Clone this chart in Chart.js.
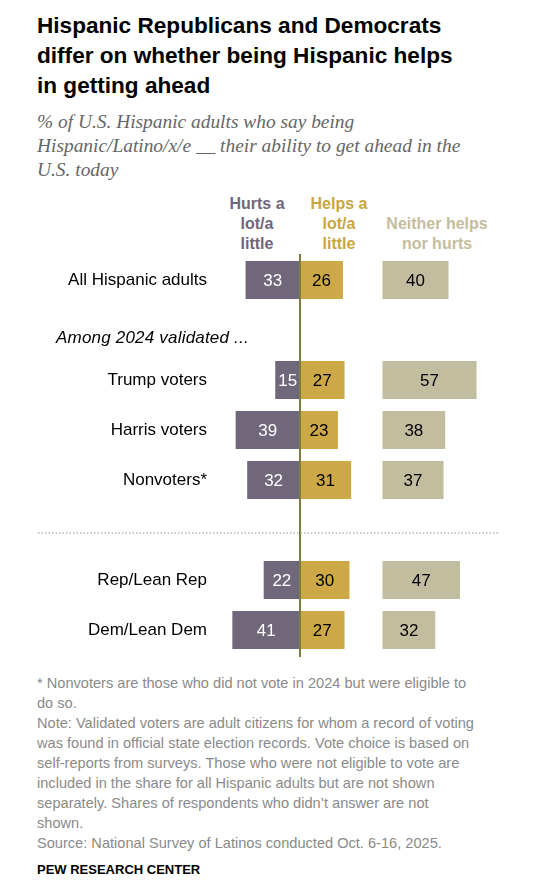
<!DOCTYPE html>
<html>
<head>
<meta charset="utf-8">
<script src="https://cdn.jsdelivr.net/npm/chart.js@4"></script>
<style>
  html, body { margin: 0; padding: 0; background: #fff; }
  #page { position: relative; width: 548px; height: 894px; overflow: hidden; font-family: "Liberation Sans", Arial, sans-serif; }
  .abs { position: absolute; white-space: nowrap; }
  #title { left: 37px; top: 11px; font-size: 22.6px; line-height: 30px; font-weight: bold; color: #000; }
  #subtitle { left: 37px; top: 110px; font-family: "Liberation Serif", serif; font-style: italic; font-size: 19.4px; line-height: 24px; color: #666; }
  .hdr { font-size: 16px; line-height: 20px; font-weight: bold; text-align: center; transform: translateX(-50%); }
  #notes { left: 37px; top: 673px; font-size: 14.6px; line-height: 20px; color: #8a8a8a; }
  #brand { left: 37px; top: 862px; font-size: 13px; font-weight: bold; color: #000; }
  #chart { position: absolute; left: 0; top: 250px; }
</style>
</head>
<body>
<div id="page">
  <div id="title" class="abs">Hispanic Republicans and Democrats<br>differ on whether being Hispanic helps<br>in getting ahead</div>
  <div id="subtitle" class="abs">% of U.S. Hispanic adults who say being<br>Hispanic/Latino/x/e __ their ability to get ahead in the<br>U.S. today</div>
  <div class="abs hdr" style="left:257px; top:194px; color:#6f667b;">Hurts a<br>lot/a<br>little</div>
  <div class="abs hdr" style="left:339px; top:194px; color:#c9a640;">Helps a<br>lot/a<br>little</div>
  <div class="abs hdr" style="left:437px; top:214px; color:#c4bd9d;">Neither helps<br>nor hurts</div>
  <canvas id="chart" width="548" height="420"></canvas>
  <div id="notes" class="abs">* Nonvoters are those who did not vote in 2024 but were eligible to<br>do so.<br>Note: Validated voters are adult citizens for whom a record of voting<br>was found in official state election records. Vote choice is based on<br>self-reports from surveys. Those who were not eligible to vote are<br>included in the share for all Hispanic adults but are not shown<br>separately. Shares of respondents who didn’t answer are not<br>shown.<br>Source: National Survey of Latinos conducted Oct. 6-16, 2025.</div>
  <div id="brand" class="abs">PEW RESEARCH CENTER</div>
</div>
<script>
// ---------- Data ----------
const categories = ["All Hispanic adults", "Among 2024 validated ...", "Trump voters", "Harris voters", "Nonvoters*", "", "Rep/Lean Rep", "Dem/Lean Dem"];
const hurts   = [33, null, 15, 39, 32, null, 22, 41];
const helps   = [26, null, 27, 23, 31, null, 30, 27];
const neither = [40, null, 57, 38, 37, null, 47, 32];

// ---------- Style ----------
const C_HURTS = "#71677b";
const C_HELPS = "#cca946";
const C_NEITHER = "#c3bda0";
const NEITHER_START = 50; // neither column sits off to the right
const FONT = '"Liberation Sans", Arial, sans-serif';

const span = (arr, f) => arr.map((v) => (v == null ? null : f(v)));

// value labels inside bars
const valueLabels = {
  id: "valueLabels",
  afterDatasetsDraw(chart) {
    const ctx = chart.ctx;
    ctx.save();
    ctx.font = "17px " + FONT;
    ctx.textAlign = "center";
    ctx.textBaseline = "middle";
    chart.data.datasets.forEach((ds, di) => {
      chart.getDatasetMeta(di).data.forEach((el, i) => {
        const v = ds.values[i];
        if (v == null) return;
        ctx.fillStyle = ds.labelColor;
        ctx.fillText(String(v), (el.x + el.base) / 2, el.y + 1);
      });
    });
    ctx.restore();
  },
};

// row labels, zero line, divider
const decor = {
  id: "decor",
  afterDatasetsDraw(chart) {
    const ctx = chart.ctx;
    const x = chart.scales.x, y = chart.scales.y;
    ctx.save();
    // zero line
    const x0 = x.getPixelForValue(0);
    ctx.strokeStyle = "#7a7e3c";
    ctx.lineWidth = 2;
    ctx.beginPath();
    ctx.moveTo(x0, chart.chartArea.top - 1);
    ctx.lineTo(x0, chart.chartArea.bottom + 2);
    ctx.stroke();
    // dotted divider
    const yd = y.getPixelForValue(5) + 3;
    ctx.strokeStyle = "#b5b5b5";
    ctx.lineWidth = 1.5;
    ctx.setLineDash([1.5, 2]);
    ctx.beginPath();
    ctx.moveTo(38, yd);
    ctx.lineTo(498, yd);
    ctx.stroke();
    ctx.setLineDash([]);
    // row labels
    ctx.fillStyle = "#000";
    ctx.textBaseline = "middle";
    categories.forEach((c, i) => {
      if (!c) return;
      const yy = y.getPixelForValue(i);
      if (i === 1) {
        ctx.font = "italic 17px " + FONT;
        ctx.letterSpacing = "0.2px";
        ctx.textAlign = "left";
        ctx.fillText(c, 56, yy + 8);
        ctx.letterSpacing = "0px";
      } else {
        ctx.font = "17px " + FONT;
        ctx.textAlign = "right";
        ctx.fillText(c, 207, yy);
      }
    });
    ctx.restore();
  },
};

new Chart(document.getElementById("chart"), {
  type: "bar",
  data: {
    labels: categories,
    datasets: [
      { label: "Hurts a lot/a little", data: span(hurts, (v) => [-v, 0]), values: hurts, backgroundColor: C_HURTS, labelColor: "#fff" },
      { label: "Helps a lot/a little", data: span(helps, (v) => [0, v]), values: helps, backgroundColor: C_HELPS, labelColor: "#000" },
      { label: "Neither helps nor hurts", data: span(neither, (v) => [NEITHER_START, NEITHER_START + v]), values: neither, backgroundColor: C_NEITHER, labelColor: "#000" },
    ],
  },
  options: {
    indexAxis: "y",
    responsive: false,
    animation: false,
    devicePixelRatio: 1,
    layout: { padding: { left: 201, right: 17, top: 5, bottom: 15 } },
    datasets: { bar: { barPercentage: 0.76, categoryPercentage: 1, borderWidth: 0, grouped: false } },
    plugins: { legend: { display: false }, tooltip: { enabled: false } },
    scales: {
      x: { display: false, min: -60, max: 140 },
      y: { display: false, stacked: true },
    },
  },
  plugins: [valueLabels, decor],
});
</script>
</body>
</html>
